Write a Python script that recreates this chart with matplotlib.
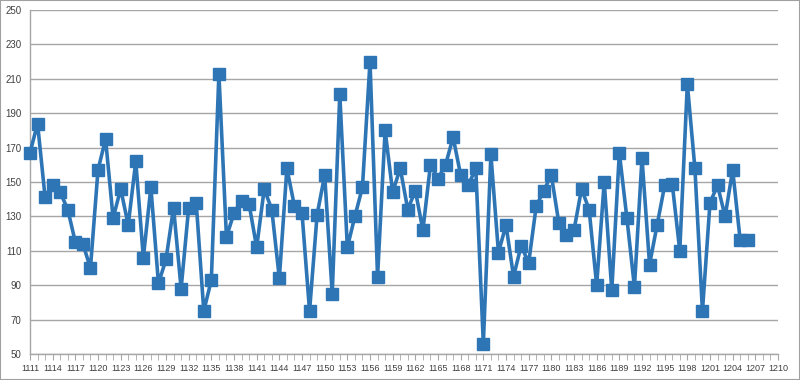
import matplotlib
matplotlib.use("Agg")
import matplotlib.pyplot as plt
import numpy as np
from matplotlib.patches import Rectangle

start_year = 1111
values = [167, 184, 141, 148, 144, 134, 115, 114, 100, 157,
          175, 129, 146, 125, 162, 106, 147, 91, 105, 135,
          88, 135, 138, 75, 93, 213, 118, 132, 139, 137,
          112, 146, 134, 94, 158, 136, 132, 75, 131, 154,
          85, 201, 112, 130, 147, 220, 95, 180, 144, 158,
          134, 145, 122, 160, 152, 160, 176, 154, 148, 158,
          56, 166, 109, 125, 95, 113, 103, 136, 145, 154,
          126, 119, 122, 146, 134, 90, 150, 87, 167, 129,
          89, 164, 102, 125, 148, 149, 110, 207, 158, 75,
          138, 148, 130, 157, 116, 116]
years = list(range(start_year, start_year + len(values)))
x_ticks = list(range(1111, 1211, 3))
y_ticks = list(range(50, 251, 20))

plt.rcParams['font.family'] = ['Liberation Sans', 'DejaVu Sans']

fig = plt.figure(figsize=(8, 3.8), dpi=100)
ax = fig.add_axes([30/800, 26/380, 748/800, 344/380])

blue = '#2e75b6'
ax.plot(years, values, color=blue, linewidth=2.6, marker='s', markersize=8.5,
        markerfacecolor=blue, markeredgecolor=blue, zorder=3, clip_on=False)

ax.set_xlim(1111, 1210)
ax.set_ylim(50, 250)
ax.set_yticks(y_ticks)
ax.set_xticks(x_ticks)
ax.set_xticks(range(1111, 1211), minor=True)
ax.grid(axis='y', color='#a6a6a6', linewidth=1.0, zorder=0)
ax.set_axisbelow(True)

for s in ['top', 'right']:
    ax.spines[s].set_visible(False)
for s in ['left', 'bottom']:
    ax.spines[s].set_color('#a6a6a6')
    ax.spines[s].set_linewidth(1.0)

ax.tick_params(axis='y', length=0, labelsize=7, labelcolor='#404040', pad=6)
ax.tick_params(axis='x', which='both', direction='out', length=4, color='#a6a6a6',
               labelsize=6.5, labelcolor='#404040', pad=3)

fig.patches.append(Rectangle((0, 0), 1, 1, transform=fig.transFigure, fill=False,
                             edgecolor='#a0a0a0', linewidth=1.5))

fig.savefig('out.png', dpi=100)
